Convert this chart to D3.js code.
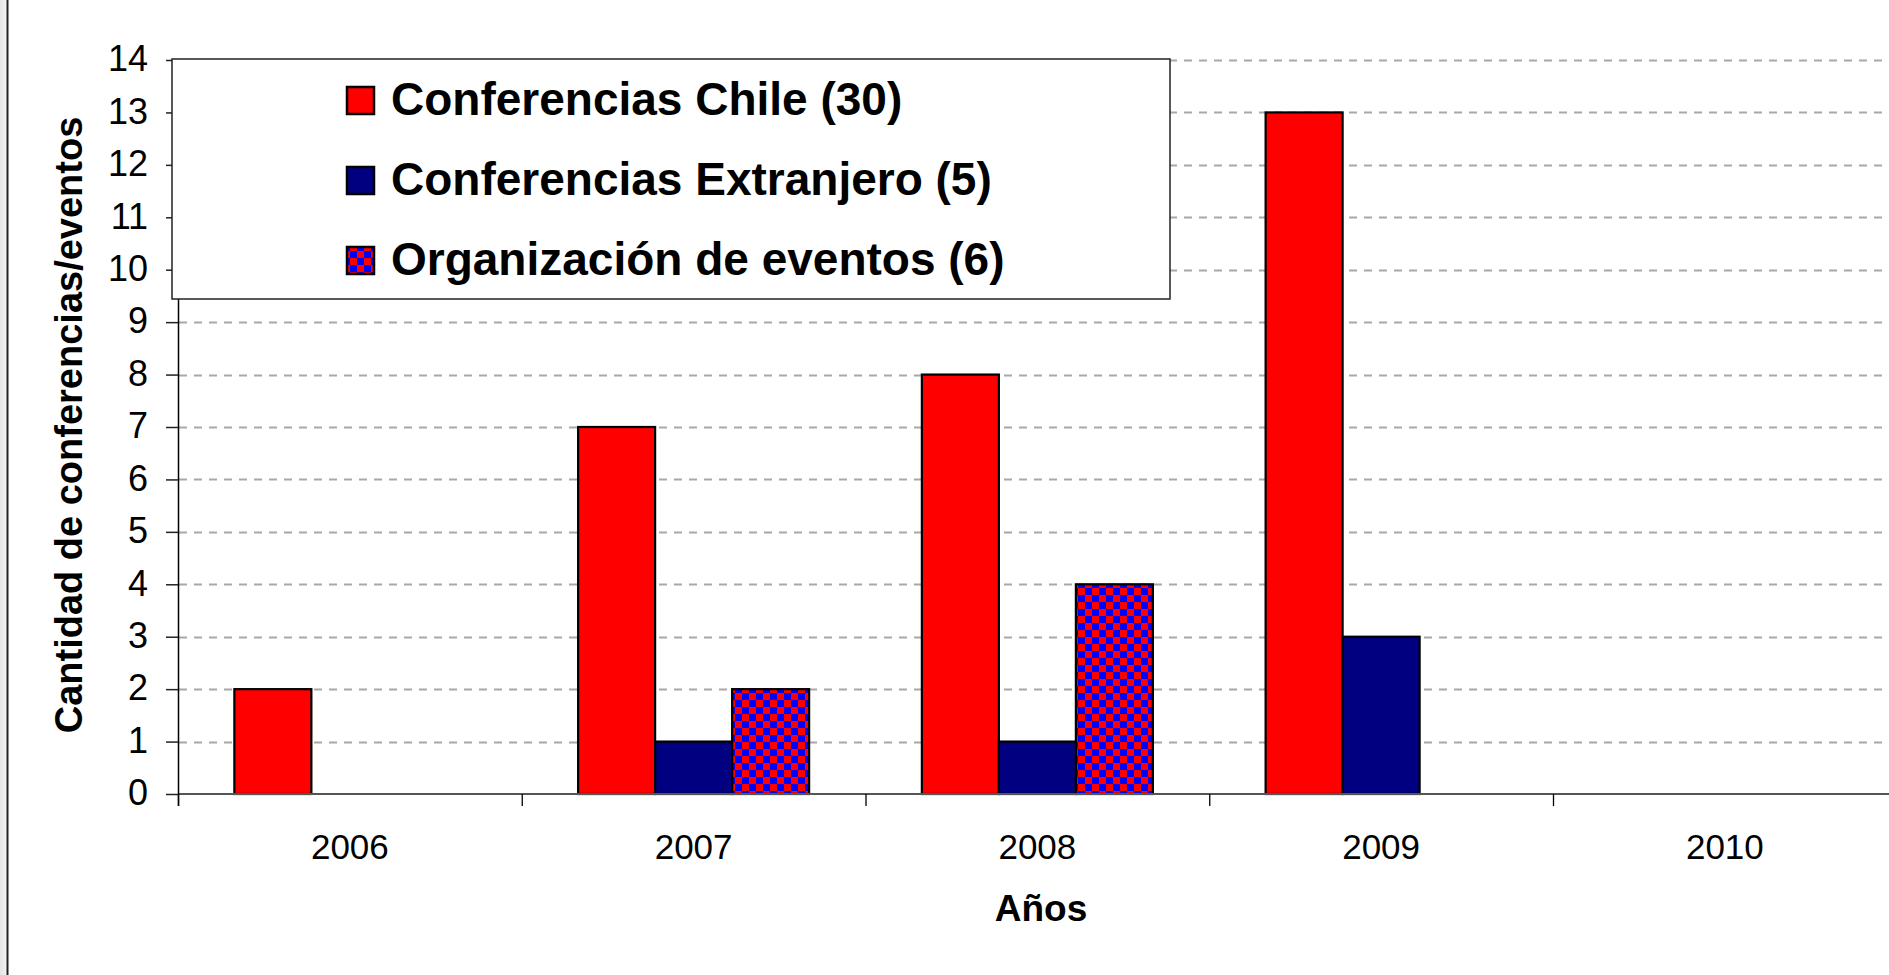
<!DOCTYPE html>
<html>
<head>
<meta charset="utf-8">
<script src="https://cdn.jsdelivr.net/npm/d3@7"></script>
<style>
  html, body { margin: 0; padding: 0; background: #fff; overflow: hidden; }
  svg { display: block; }
  text { font-family: "Liberation Sans", Arial, sans-serif; }
</style>
</head>
<body>
<script>
// ---- data ----
const years = ["2006", "2007", "2008", "2009", "2010"];
const seriesNames = ["Conferencias Chile (30)", "Conferencias Extranjero (5)", "Organización de eventos (6)"];
const chile = [2, 7, 8, 13, 0];
const extranjero = [0, 1, 1, 3, 0];
const organizacion = [0, 2, 4, 0, 0];
const yTicks = [0,1,2,3,4,5,6,7,8,9,10,11,12,13,14];
const yTitle = "Cantidad de conferencias/eventos";
const xTitle = "Años";

const W = 1889, H = 975;
const svg = d3.select("body").append("svg").attr("width", W).attr("height", H);

// pattern (checkerboard)
const defs = svg.append("defs");
const cs = 7;
const pat = defs.append("pattern").attr("id", "checker").attr("patternUnits", "userSpaceOnUse")
  .attr("width", cs * 2).attr("height", cs * 2);
pat.append("rect").attr("width", cs * 2).attr("height", cs * 2).attr("fill", "#0000FF");
pat.append("rect").attr("width", cs).attr("height", cs).attr("fill", "#FF0000");
pat.append("rect").attr("x", cs).attr("y", cs).attr("width", cs).attr("height", cs).attr("fill", "#FF0000");

const grad = defs.append("linearGradient").attr("id", "edge").attr("x1", 0).attr("x2", 1);
grad.append("stop").attr("offset", 0).attr("stop-color", "#e4e4e4");
grad.append("stop").attr("offset", 1).attr("stop-color", "#f4f4f4");

// left frame
svg.append("rect").attr("x", 0).attr("y", 0).attr("width", 7).attr("height", H).attr("fill", "url(#edge)");
svg.append("line").attr("x1", 7.5).attr("x2", 7.5).attr("y1", 0).attr("y2", H).attr("stroke", "#222").attr("stroke-width", 2);

const plotL = 178, plotT = 60, plotB = 794;
const band = 343.75;
const x0 = d3.scaleBand().domain(years).range([plotL, plotL + band * years.length]).padding(0);
const x1 = d3.scaleBand().domain(seriesNames).range([0, x0.bandwidth()]).paddingInner(0).paddingOuter(0.732);
const y = d3.scaleLinear().domain([0, 14]).range([plotB, plotT]);

const fills = ["#FF0000", "#000080", "url(#checker)"];
const values = [chile, extranjero, organizacion];

// gridlines
svg.append("g").selectAll("line").data(yTicks.filter(d => d > 0)).join("line")
  .attr("x1", plotL + 1).attr("x2", W)
  .attr("y1", d => Math.round(y(d)) + 0.5).attr("y2", d => Math.round(y(d)) + 0.5)
  .attr("stroke", "#a8a8a8").attr("stroke-width", 2).attr("stroke-dasharray", "8,7");

// bars
const rows = [];
years.forEach((yr, i) => seriesNames.forEach((s, j) => {
  if (values[j][i] > 0) rows.push({ yr, s, j, v: values[j][i] });
}));
svg.append("g").selectAll("rect").data(rows).join("rect")
  .attr("x", d => x0(d.yr) + x1(d.s))
  .attr("y", d => y(d.v))
  .attr("width", x1.bandwidth())
  .attr("height", d => y(0) - y(d.v))
  .attr("fill", d => fills[d.j])
  .attr("stroke", "#000").attr("stroke-width", 2.2);

// x axis
const xAxis = d3.axisBottom(x0).tickSize(0).tickPadding(0);
const gx = svg.append("g").attr("transform", `translate(0,${plotB})`).call(xAxis);
gx.select(".domain").remove();
gx.append("line").attr("x1", plotL).attr("x2", W).attr("y1", 0).attr("y2", 0)
  .attr("stroke", "#555").attr("stroke-width", 2);
gx.selectAll(".tick text").attr("font-size", 35).attr("fill", "#000").attr("dy", 0).attr("y", 65)
  .attr("font-family", "'Liberation Sans', Arial, sans-serif");
const boundaries = d3.range(years.length + 1).map(i => plotL + i * band);
gx.selectAll(".bnd").data(boundaries).join("line").attr("class", "bnd")
  .attr("x1", d => d + 0.5).attr("x2", d => d + 0.5).attr("y1", 0).attr("y2", 12)
  .attr("stroke", "#000").attr("stroke-width", 1.3);

// y axis
const yAxis = d3.axisLeft(y).tickValues(yTicks).tickSize(12).tickPadding(18);
const gy = svg.append("g").attr("transform", `translate(${plotL},0)`).call(yAxis);
gy.select(".domain").attr("d", `M0.5,${plotT}V${plotB + 12}`).attr("stroke", "#000").attr("stroke-width", 1.5);
gy.selectAll(".tick line").attr("stroke", "#222").attr("stroke-width", 1.5);
gy.selectAll(".tick text").attr("font-size", 36).attr("fill", "#000").attr("dy", "0.3em")
  .attr("font-family", "'Liberation Sans', Arial, sans-serif");

// axis titles
svg.append("text").attr("transform", `translate(82,${(plotT + plotB) / 2 - 2}) rotate(-90)`)
  .attr("text-anchor", "middle").attr("font-size", 38).attr("font-weight", "bold").text(yTitle);
svg.append("text").attr("x", 1041).attr("y", 921)
  .attr("text-anchor", "middle").attr("font-size", 37).attr("font-weight", "bold").text(xTitle);

// legend
const lg = svg.append("g");
lg.append("rect").attr("x", 172).attr("y", 59).attr("width", 998).attr("height", 240)
  .attr("fill", "#fff").attr("stroke", "#222").attr("stroke-width", 1.5);
const items = lg.selectAll(".item").data(seriesNames).join("g").attr("class", "item")
  .attr("transform", (d, i) => `translate(0,${i * 80})`);
items.append("rect").attr("x", 347).attr("y", 87).attr("width", 27).attr("height", 27)
  .attr("fill", (d, i) => fills[i]).attr("stroke", "#000").attr("stroke-width", 2.5);
items.append("text").attr("x", 391).attr("y", 115).attr("font-size", 46).attr("font-weight", "bold").text(d => d);
</script>
</body>
</html>
